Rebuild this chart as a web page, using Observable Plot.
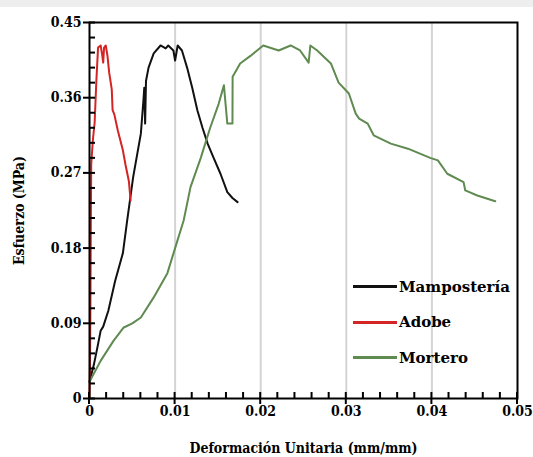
<!DOCTYPE html>
<html><head><meta charset="utf-8">
<script src="https://cdn.jsdelivr.net/npm/d3@7"></script>
<script src="https://cdn.jsdelivr.net/npm/@observablehq/plot@0.6"></script>
<style>
body{margin:0;background:#fff;}
#wrap{position:relative;width:533px;height:457px;overflow:hidden;}
#band{position:absolute;left:0;top:0;width:533px;height:7px;background:#eeeeee;}
#legend{position:absolute;left:353px;top:269px;font-family:"DejaVu Serif";font-weight:bold;font-size:15px;color:#000;}
.item{display:flex;align-items:center;height:35.5px;}
.sw{width:44px;height:3px;margin-right:2px;}
</style>
</head><body>
<div id="wrap"><div id="band"></div></div>
<script>
const seriesNames = ["Mampostería", "Adobe", "Mortero"];
const seriesColors = ["#111111", "#d42424", "#5f8a50"];

const mampX = [0, 0.0005, 0.0009, 0.0013, 0.0016, 0.0022, 0.003, 0.0039, 0.0044, 0.0051, 0.006, 0.0063, 0.0064, 0.0065, 0.0066, 0.0069, 0.0075, 0.0083, 0.0089, 0.0092, 0.0098, 0.0100, 0.0103, 0.0108, 0.0114, 0.012, 0.0126, 0.0132, 0.0138, 0.0145, 0.0153, 0.0161, 0.0167, 0.0173];
const mampY = [0.02, 0.04, 0.06, 0.081, 0.086, 0.105, 0.141, 0.174, 0.213, 0.265, 0.317, 0.357, 0.372, 0.329, 0.38, 0.396, 0.413, 0.4225, 0.419, 0.4225, 0.4165, 0.4045, 0.4225, 0.4165, 0.396, 0.372, 0.345, 0.324, 0.305, 0.288, 0.269, 0.247, 0.24, 0.235];

const adobeX = [0, 0.00005, 0.0001, 0.00015, 0.0002, 0.0004, 0.0006, 0.0008, 0.001, 0.0013, 0.0015, 0.0016, 0.0017, 0.0019, 0.0021, 0.0023, 0.0026, 0.0027, 0.0029, 0.0033, 0.0039, 0.0042, 0.0046, 0.0048];
const adobeY = [0, 0.03, 0.1, 0.2, 0.28, 0.31, 0.33, 0.38, 0.42, 0.4225, 0.41, 0.402, 0.42, 0.4225, 0.41, 0.39, 0.37, 0.345, 0.34, 0.321, 0.297, 0.28, 0.26, 0.237];

const mortX = [0, 0.0013, 0.0028, 0.004, 0.005, 0.006, 0.0075, 0.0091, 0.01, 0.011, 0.0118, 0.013, 0.0141, 0.0151, 0.0157, 0.0161, 0.0167, 0.01672, 0.0176, 0.0188, 0.0203, 0.0221, 0.0235, 0.0246, 0.0256, 0.0258, 0.0266, 0.0282, 0.0291, 0.0303, 0.0311, 0.0315, 0.0325, 0.0332, 0.0352, 0.0372, 0.0398, 0.0407, 0.0418, 0.0437, 0.0439, 0.0453, 0.0474];
const mortY = [0.02, 0.045, 0.069, 0.085, 0.09, 0.097, 0.121, 0.15, 0.18, 0.213, 0.253, 0.288, 0.324, 0.353, 0.375, 0.329, 0.329, 0.385, 0.401, 0.41, 0.4225, 0.4165, 0.4225, 0.4165, 0.402, 0.4225, 0.4165, 0.401, 0.378, 0.365, 0.341, 0.335, 0.329, 0.315, 0.305, 0.299, 0.288, 0.285, 0.269, 0.259, 0.249, 0.243, 0.236];

const xTicks = [0, 0.01, 0.02, 0.03, 0.04, 0.05];
const xTickLabels = ["0", "0.01", "0.02", "0.03", "0.04", "0.05"];
const xMinor = [0.002, 0.004, 0.006, 0.008, 0.012, 0.014, 0.016, 0.018, 0.022, 0.024, 0.026, 0.028, 0.032, 0.034, 0.036, 0.038, 0.042, 0.044, 0.046, 0.048];
const xGrid = [0.01, 0.02, 0.03, 0.04];
const yTicks = [0, 0.09, 0.18, 0.27, 0.36, 0.45];
const yTickLabels = ["0", "0.09", "0.18", "0.27", "0.36", "0.45"];
const yMinor = [0.018, 0.036, 0.054, 0.072, 0.108, 0.126, 0.144, 0.162, 0.198, 0.216, 0.234, 0.252, 0.288, 0.306, 0.324, 0.342, 0.378, 0.396, 0.414, 0.432];

const xLabel = "Deformación Unitaria (mm/mm)";
const yLabel = "Esfuerzo (MPa)";

const rows = [];
mampX.forEach((x, i) => rows.push({s: seriesNames[0], x, y: mampY[i]}));
adobeX.forEach((x, i) => rows.push({s: seriesNames[1], x, y: adobeY[i]}));
mortX.forEach((x, i) => rows.push({s: seriesNames[2], x, y: mortY[i]}));

const W = 533, H = 457, mL = 89, mR = 16, mT = 22, mB = 59;
const innerW = W - mL - mR, innerH = H - mT - mB;
const tk = 6;

const chart = Plot.plot({
  width: W, height: H,
  marginLeft: mL, marginRight: mR, marginTop: mT, marginBottom: mB,
  style: {fontFamily: "DejaVu Serif Condensed, DejaVu Serif", fontSize: "14px", fontWeight: "bold", color: "#000", background: "transparent", overflow: "visible"},
  x: {domain: [0, 0.05]},
  y: {domain: [0, 0.45]},
  color: {domain: seriesNames, range: seriesColors},
  marks: [
    Plot.ruleX(xGrid, {stroke: "#d4d4d4", strokeWidth: 2}),
    Plot.line(rows, {x: "x", y: "y", z: "s", stroke: "s", strokeWidth: 2, strokeLinejoin: "round"}),
    Plot.frame({stroke: "#000", strokeWidth: 2}),
    Plot.axisX(xTicks, {tickSize: 0, tickPadding: 8, tickFormat: (d, i) => xTickLabels[i], fontSize: 14, label: xLabel, labelAnchor: "center", labelOffset: 54, labelArrow: "none"}),
    Plot.axisY(yTicks, {tickSize: 0, tickPadding: 8, tickFormat: (d, i) => yTickLabels[i], fontSize: 14, label: yLabel, labelAnchor: "center", labelOffset: 75, labelArrow: "none"}),
    Plot.tickY(yTicks, {y: d => d, stroke: "#000", strokeWidth: 2, insetRight: innerW - tk, insetLeft: -tk}),
    Plot.tickY(yMinor, {y: d => d, stroke: "#000", strokeWidth: 2, insetRight: innerW - tk})
  ]
});
chart.style.position = "absolute";
chart.style.left = "0px";
chart.style.top = "0px";

// x-axis ticks placed through Plot's own x/y scales
const sx = chart.scale("x"), sy = chart.scale("y");
const y0 = sy.apply(0);
const tg = d3.select(chart).append("g").attr("stroke", "#000").attr("stroke-width", 2);
tg.selectAll("line.maj").data(xTicks).join("line").attr("class", "maj")
  .attr("x1", d => sx.apply(d)).attr("x2", d => sx.apply(d))
  .attr("y1", y0 - tk).attr("y2", y0 + tk);
tg.selectAll("line.min").data(xMinor).join("line").attr("class", "min")
  .attr("x1", d => sx.apply(d)).attr("x2", d => sx.apply(d))
  .attr("y1", y0 - tk).attr("y2", y0);

const wrap = document.getElementById("wrap");
wrap.appendChild(chart);

const legend = document.createElement("div");
legend.id = "legend";
seriesNames.forEach((name, i) => {
  const item = document.createElement("div");
  item.className = "item";
  const sw = document.createElement("div");
  sw.className = "sw";
  sw.style.background = seriesColors[i];
  const t = document.createElement("span");
  t.textContent = name;
  item.appendChild(sw);
  item.appendChild(t);
  legend.appendChild(item);
});
wrap.appendChild(legend);
</script>
</body></html>
